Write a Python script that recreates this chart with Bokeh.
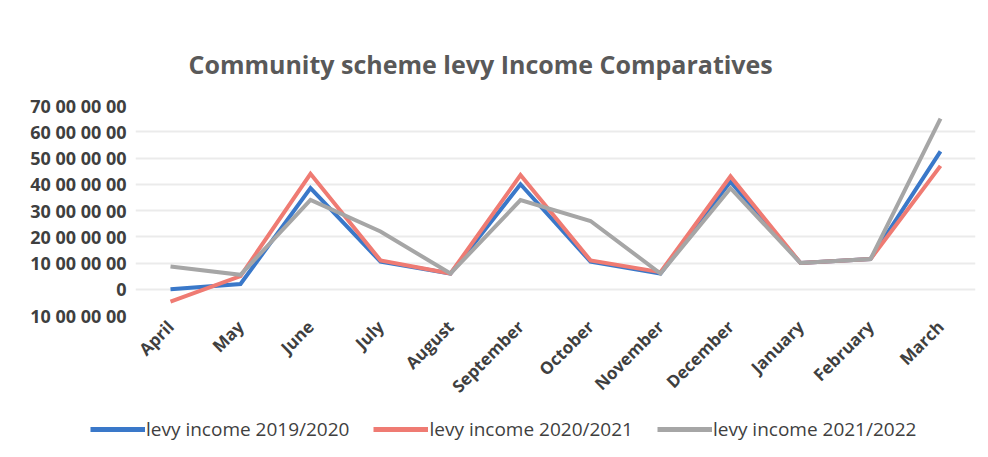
import math
from bokeh.plotting import figure
from bokeh.layouts import column
from bokeh.models import Legend, LegendItem, FactorRange, Range1d, FixedTicker
from bokeh.embed import file_html
from bokeh.resources import INLINE

months = ["April", "May", "June", "July", "August", "September", "October",
          "November", "December", "January", "February", "March"]
# values in millions
levy_2019_2020 = [0.0, 2.0, 38.5, 10.5, 6.0, 40.0, 10.5, 6.0, 41.0, 10.0, 11.5, 52.5]
levy_2020_2021 = [-4.7, 5.0, 44.0, 11.0, 6.0, 43.5, 11.0, 6.5, 43.0, 10.0, 11.5, 47.0]
levy_2021_2022 = [8.7, 5.5, 34.0, 22.0, 6.0, 34.0, 26.0, 6.0, 38.5, 10.0, 11.5, 65.0]
y_ticks = [-10, 0, 10, 20, 30, 40, 50, 60, 70]
y_tick_labels = ["10 00 00 00", "0", "10 00 00 00", "20 00 00 00", "30 00 00 00",
                 "40 00 00 00", "50 00 00 00", "60 00 00 00", "70 00 00 00"]
series_names = ["levy income 2019/2020", "levy income 2020/2021", "levy income 2021/2022"]
colors = ["#3a78c9", "#ef7b73", "#a6a6a6"]
series = [levy_2019_2020, levy_2020_2021, levy_2021_2022]

FONT = "Open Sans"
TXT = "#3f3f3f"

p = figure(width=988, height=408, output_backend="svg", toolbar_location=None,
           x_range=FactorRange(*months, range_padding=0), y_range=Range1d(-10, 70),
           min_border_left=135, min_border_right=13, min_border_top=105, min_border_bottom=83)
p.frame_align = False
p.outline_line_color = None
p.background_fill_color = "white"
p.border_fill_color = "white"

p.title.text = "Community scheme levy Income Comparatives"
p.title.align = "left"
p.title.offset = 53
p.title.standoff = 50
p.title.text_font = FONT
p.title.text_font_size = "25px"
p.title.text_font_style = "bold"
p.title.text_color = "#595959"

for vals, c in zip(series, colors):
    p.line(months, vals, line_color=c, line_width=4, line_join="miter")

p.yaxis.ticker = FixedTicker(ticks=y_ticks)
p.yaxis.major_label_overrides = {t: l for t, l in zip(y_ticks, y_tick_labels)}
p.yaxis.axis_line_color = None
p.yaxis.major_tick_line_color = None
p.yaxis.minor_tick_line_color = None
p.yaxis.major_label_standoff = 3
p.yaxis.major_label_text_font = FONT
p.yaxis.major_label_text_font_size = "18px"
p.yaxis.major_label_text_font_style = "bold"
p.yaxis.major_label_text_color = TXT

p.xaxis.axis_line_color = None
p.xaxis.major_tick_line_color = None
p.xaxis.major_label_orientation = math.pi / 4
p.xaxis.major_label_standoff = 2
p.xaxis.major_label_text_font = FONT
p.xaxis.major_label_text_font_size = "17px"
p.xaxis.major_label_text_font_style = "bold"
p.xaxis.major_label_text_color = TXT

p.xgrid.grid_line_color = None
p.ygrid.grid_line_color = "#ebebeb"
p.ygrid.grid_line_width = 2

# legend strip below the chart: same series drawn outside its visible y range
lg = figure(width=988, height=49, output_backend="svg", toolbar_location=None,
            x_range=FactorRange(*months, range_padding=0), y_range=Range1d(1000, 1001),
            x_axis_type=None, y_axis_type=None,
            min_border_left=0, min_border_right=0, min_border_top=0, min_border_bottom=0)
lg.frame_align = False
lg.outline_line_color = None
lg.xgrid.grid_line_color = None
lg.ygrid.grid_line_color = None
items = []
for name, vals, c in zip(series_names, series, colors):
    r = lg.line(months, vals, line_color=c, line_width=5)
    items.append(LegendItem(label=name, renderers=[r]))
legend = Legend(items=items, orientation="horizontal", location=(90, 15),
                glyph_width=55, glyph_height=20, label_standoff=1, spacing=24,
                padding=0, margin=0, border_line_color=None, background_fill_alpha=0,
                label_text_font=FONT, label_text_font_size="19px", label_text_color=TXT)
lg.add_layout(legend, "center")

layout = column(p, lg, spacing=0)
open("out.html", "w").write(file_html(layout, INLINE))
